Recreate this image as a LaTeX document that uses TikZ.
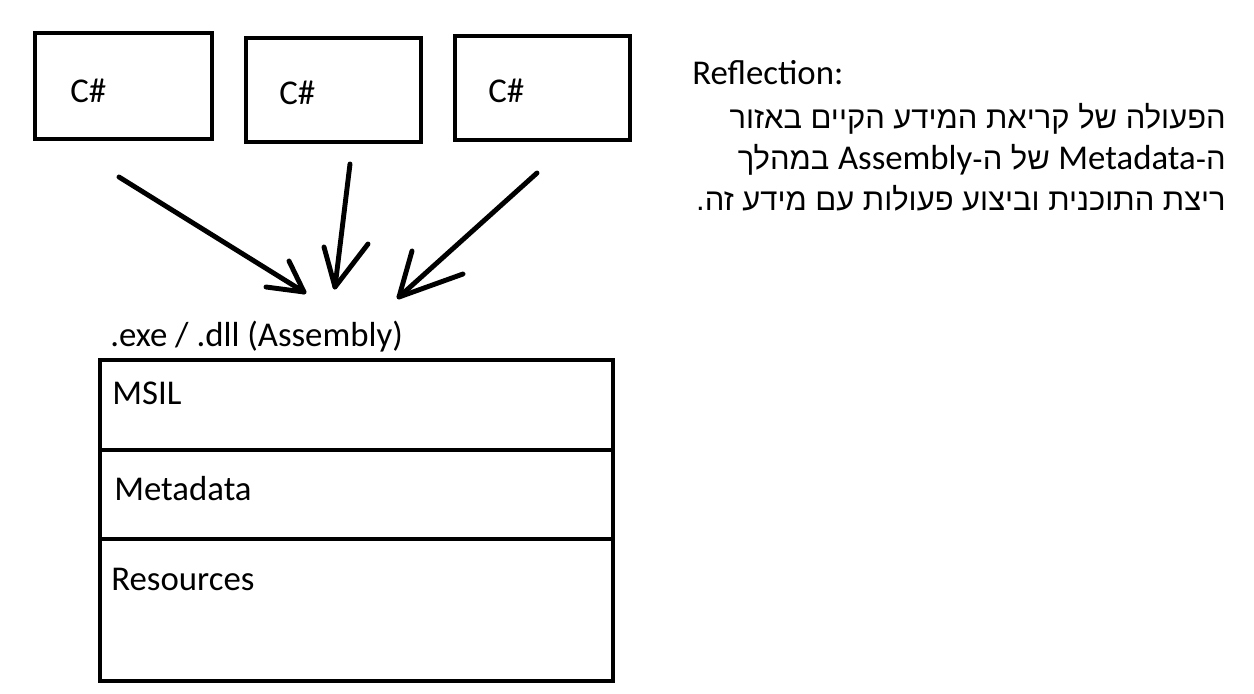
\documentclass[tikz,border=0pt]{standalone}
\usepackage{fontspec}
\setmainfont{Carlito}
\newfontfamily\hebfont[Script=Hebrew]{Liberation Sans}
\TeXXeTstate=1
\newcommand{\latinword}[1]{\beginL{\fontsize{19.8}{24}\selectfont\rmfamily #1}\endL{}}
\tikzset{
    box/.style={draw, line width=2.8pt},
    txt/.style={inner sep=0pt, anchor=base west, font=\fontsize{19.8}{24}\selectfont},
    hebtxt/.style={inner sep=0pt, anchor=base east, font=\fontsize{17.6}{22}\selectfont\hebfont},
    stroke/.style={line width=2.8pt, line cap=round, line join=round}
}
\begin{document}
\begin{tikzpicture}[x=0.02cm, y=-0.02cm]
    \useasboundingbox (0,0) rectangle (1254,693);
    %Source files
    \draw[box] (35,33) rectangle (212,139);
    \draw[box] (246,38) rectangle (421,142);
    \draw[box] (455,36) rectangle (630,140);
    \node[txt] (cs1) at (70,102) {C\#};
    \node[txt] (cs2) at (279,104) {C\#};
    \node[txt] (cs3) at (488,102) {C\#};
    %Arrows
    \coordinate (s1) at (119,177);
    \coordinate (t1) at (304,292);
    \coordinate (s2) at (350,164);
    \coordinate (t2) at (335,287);
    \coordinate (s3) at (537,173);
    \coordinate (t3) at (399,297);
    \draw[stroke] (s1) -- (t1);
    \draw[stroke] (266,287) -- (t1) -- (289,261);
    \draw[stroke] (s2) -- (t2);
    \draw[stroke] (324,247) -- (t2) -- (368,244);
    \draw[stroke] (s3) -- (t3);
    \draw[stroke] (412,251) -- (t3) -- (463,274);
    %Assembly
    \node[txt] (asm) at (110,346) {.exe / .dll (Assembly)};
    \draw[box] (100,360) rectangle (613,681);
    \draw[box] (100,450) -- (613,450);
    \draw[box] (100,539) -- (613,539);
    \node[txt] (msil) at (112,404) {MSIL};
    \node[txt] (meta) at (114,500) {Metadata};
    \node[txt] (res) at (111,590) {Resources};
    %Reflection
    \node[txt] (refl) at (692,84) {Reflection:};
    \node[hebtxt] (line1) at (1226,128) {\beginR הפעולה של קריאת המידע הקיים באזור\endR};
    \node[hebtxt] (line2) at (1226,169) {\beginR ה-\latinword{Metadata} של ה-\latinword{Assembly} במהלך\endR};
    \node[hebtxt] (line3) at (1226,210) {\beginR ריצת התוכנית וביצוע פעולות עם מידע זה.\endR};
\end{tikzpicture}
\end{document}
